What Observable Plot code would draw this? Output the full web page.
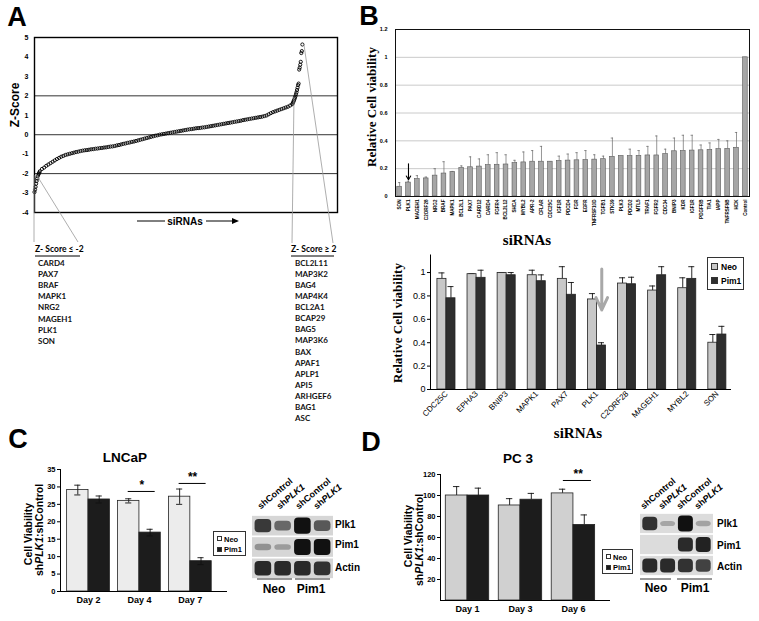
<!DOCTYPE html>
<html><head><meta charset="utf-8">
<script src="https://cdn.jsdelivr.net/npm/d3@7"></script>
<script src="https://cdn.jsdelivr.net/npm/@observablehq/plot@0.6"></script>
<style>
body{margin:0;background:#fff;}
#fig{position:relative;width:759px;height:621px;overflow:hidden;background:#fff;font-family:'Liberation Sans',Arial,sans-serif;color:#000;}
#fig svg{position:absolute;}
</style></head>
<body><div id="fig"></div>
<script>
// ---------------- DATA ----------------
// Panel A: ranked Z-scores (low tail, body, high tail)
const zLowTail = [-2.95,-2.82,-2.68,-2.52,-2.38,-2.25,-2.14,-2.06,-2.0,-1.95];
const zBody = [-1.88,-1.76,-1.69,-1.6,-1.53,-1.46,-1.39,-1.32,-1.25,-1.19,
  -1.13,-1.09,-1.04,-1.01,-0.98,-0.95,-0.92,-0.89,-0.87,-0.84,
  -0.82,-0.8,-0.79,-0.77,-0.75,-0.74,-0.72,-0.71,-0.69,-0.68,
  -0.66,-0.65,-0.63,-0.61,-0.6,-0.58,-0.55,-0.53,-0.5,-0.47,
  -0.45,-0.42,-0.4,-0.37,-0.35,-0.32,-0.29,-0.26,-0.23,-0.2,
  -0.17,-0.14,-0.11,-0.08,-0.05,-0.03,0.0,0.02,0.04,0.06,
  0.08,0.1,0.12,0.14,0.16,0.18,0.2,0.22,0.24,0.26,
  0.28,0.29,0.31,0.33,0.34,0.35,0.37,0.38,0.4,0.42,
  0.44,0.46,0.48,0.5,0.52,0.54,0.56,0.58,0.6,0.62,
  0.64,0.66,0.68,0.7,0.72,0.75,0.77,0.79,0.81,0.83,
  0.85,0.87,0.89,0.91,0.93,0.96,0.99,1.05,1.11,1.16,
  1.2,1.24,1.28,1.32,1.36,1.4,1.44,1.5,1.57];
const zHighTail = [1.62,1.68,1.75,1.82,1.9,1.98,2.08,2.18,2.3,2.42,2.55,2.63,3.35,3.45,3.6,3.75,4.2,4.3,4.64];
const zTicks = [-4,-3,-2,-1,0,1,2,3,4,5];
const zThresholds = [-2,0,2];
const lowHits = ["CARD4","PAX7","BRAF","MAPK1","NRG2","MAGEH1","PLK1","SON"];
const highHits = ["BCL2L11","MAP3K2","BAG4","MAP4K4","BCL2A1","BCAP29","BAG5","MAP3K6","BAX","APAF1","APLP1","API5","ARHGEF6","BAG1","ASC"];

// Panel B (top): relative viability of hits
const bGenes = ["SON","PLK1","MAGEH1","C2ORF28","NRG2","BRAF","MAPK1","BCL2L1","PAX7","CARD12","CARD4","FGFR4","BCL2L12","SHCA","MYBL2","APR-2","CFLAR","CDC25C","IGF1R","PDCD4","FGR","EGFR","TNFRSF10D","TGFB1","STK39","PLK3","PDCD2","MTL5","TRAF1","FGFR2","CDC34","BNIP3","KDR","IGF1R","PDGFRB","TIA1","IAPP","TNFRSF6B","HCK","Control"];
const bViability = [0.07,0.1,0.125,0.13,0.15,0.165,0.175,0.205,0.21,0.215,0.225,0.228,0.23,0.24,0.245,0.25,0.25,0.25,0.255,0.258,0.26,0.262,0.265,0.268,0.285,0.29,0.29,0.292,0.295,0.295,0.305,0.325,0.327,0.33,0.332,0.335,0.34,0.342,0.35,1.0];
const bErrTop = [0.1,0.11,0.15,0.14,0.2,0.25,0.18,0.22,0.285,0.27,0.3,0.315,0.3,0.26,0.32,0.33,0.36,0.25,0.29,0.305,0.315,0.33,0.3,0.29,0.42,0.29,0.34,0.33,0.36,0.435,0.34,0.42,0.44,0.44,0.37,0.385,0.41,0.4,0.46,1.0];
const bTicks = [0,0.2,0.4,0.6,0.8,1,1.2];
const bMarked = ["PLK1"];

// Panel B (bottom): Neo vs Pim1
const vGenes = ["CDC25C","EPHA3","BNIP3","MAPK1","PAX7","PLK1","C2ORF28","MAGEH1","MYBL2","SON"];
const vNeo = [0.946,0.986,0.997,0.977,0.946,0.77,0.906,0.846,0.866,0.40];
const vNeoTop = [0.997,0.99,1.0,1.02,1.05,0.82,0.955,0.885,0.955,0.47];
const vPim = [0.78,0.955,0.977,0.926,0.81,0.376,0.9,0.977,0.946,0.47];
const vPimTop = [0.88,1.02,1.0,0.98,0.915,0.40,0.96,1.05,1.05,0.54];
const vTicks = [0,0.2,0.4,0.6,0.8,1];

// Panel C: LNCaP
const cDays = ["Day 2","Day 4","Day 7"];
const cNeo = [29.1,26.0,27.2], cNeoSD = [1.4,0.6,2.2];
const cPim = [26.4,16.9,8.7], cPimSD = [1.0,0.95,1.0];
const cTicks = [0,5,10,15,20,25,30,35];
const cSig = [{g:1, label:"*", y:28.7}, {g:2, label:"**", y:31.0}];

// Panel D: PC 3
const dDays = ["Day 1","Day 3","Day 6"];
const dNeo = [100,90.5,102], dNeoSD = [8.5,6.5,4];
const dPim = [100,96,72], dPimSD = [7,6,9.5];
const dTicks = [20,40,60,80,100,120];
const dSig = [{g:2, label:"**", y:114.3}];

// Western blots (band intensity 0..1)
const blotRows = ["Plk1","Pim1","Actin"];
const blotLanes = ["shControl","shPLK1","shControl","shPLK1"];
const blotC = {Plk1:[0.75,0.45,1.0,0.55], Pim1:[0.18,0.12,1.0,1.0], Actin:[0.85,0.85,0.85,0.8]};
const blotD = {Plk1:[0.8,0.08,1.0,0.1], Pim1:[0,0,0.85,0.9], Actin:[0.85,0.85,0.8,0.7]};

// ---------------- HELPERS ----------------
const fig = document.getElementById("fig");
const SANS = "'Liberation Sans',Arial,sans-serif";
const SERIF = "'Liberation Serif','Times New Roman',serif";
function place(node, left, top){ node.style.left = left+"px"; node.style.top = top+"px"; fig.appendChild(node); return node; }
function txt(html, x, y, css, anchor="middle", rot=0){
  const d = document.createElement("div");
  d.innerHTML = html;
  const tx = anchor==="middle" ? "-50%" : anchor==="end" ? "-100%" : "0";
  d.style.cssText = `position:absolute;left:${x}px;top:${y}px;white-space:nowrap;line-height:1;${css}`;
  d.style.transform = `translate(${tx},-50%)` + (rot ? ` rotate(${rot}deg)` : "");
  fig.appendChild(d); return d;
}
function slant(html, x, y, size, rot){
  const d = document.createElement("div");
  d.innerHTML = html;
  d.style.cssText = `position:absolute;left:${x}px;top:${y-size}px;white-space:nowrap;line-height:1;font:bold ${size}px ${SANS};transform-origin:0 100%;transform:rotate(${rot}deg);`;
  fig.appendChild(d);
}
const fmt = d => String(d);

// ---------------- PANEL A ----------------
const aData = [
  ...zLowTail.map((z,i)=>({rank:i, z})),
  ...zBody.map((z,i)=>({rank:10+4*i, z})),
  ...zHighTail.map((z,i)=>({rank:483+i, z}))
];
place(Plot.plot({
  width:360, height:225, marginLeft:34, marginRight:23, marginTop:37, marginBottom:13,
  style:{fontFamily:SANS, background:"none", overflow:"visible"},
  x:{domain:[0,566.7], axis:null},
  y:{domain:[-4,5], axis:null},
  marks:[
    Plot.ruleY(zThresholds, {stroke:"#333", strokeWidth:1}),
    Plot.dot(aData, {x:"rank", y:"z", r:1.6, stroke:"#000", strokeWidth:0.9, fill:"none"}),
    Plot.frame({stroke:"#000", strokeWidth:1.4}),
    Plot.axisY(zTicks, {tickSize:0, tickPadding:6, fontSize:7, fontWeight:"bold", tickFormat:fmt, label:null})
  ]
}), 0, 0);

// ---------------- PANEL B top ----------------
const bIdx = d3.range(bGenes.length);
const bData = bIdx.map(i=>({g:i, v:bViability[i], e:bErrTop[i]}));
place(Plot.plot({
  width:399, height:250, marginLeft:35, marginRight:10, marginTop:29, marginBottom:54,
  style:{fontFamily:SANS, background:"none", overflow:"visible"},
  x:{type:"band", domain:bIdx, paddingInner:0.47, paddingOuter:0.2, axis:null},
  y:{domain:[0,1.2], axis:null},
  marks:[
    Plot.gridY(bTicks.slice(1), {stroke:"#bdbdbd", strokeOpacity:1, strokeWidth:0.8}),
    Plot.ruleX(bData, {x:"g", y1:"v", y2:"e", stroke:"#6a6a6a", strokeWidth:0.7}),
    Plot.tickY(bData, {x:"g", y:"e", stroke:"#6a6a6a", strokeWidth:0.7, insetLeft:1.2, insetRight:1.2}),
    Plot.barY(bData, {x:"g", y:"v", fill:"#a6a6a6", stroke:"#5a5a5a", strokeWidth:0.6}),
    Plot.frame({stroke:"#111", strokeWidth:1}),
    Plot.arrow(bData.filter(d=>bMarked.includes(bGenes[d.g])), {x1:"g", x2:"g", y1:d=>d.v+0.135, y2:d=>d.v+0.02, stroke:"#000", strokeWidth:1.1, headLength:6}),
    Plot.axisY(bTicks, {tickSize:0, tickPadding:8, fontSize:5.5, fontWeight:"bold", tickFormat:fmt, label:null}),
    Plot.axisX(bIdx, {tickSize:0, tickPadding:3, tickRotate:-90, fontSize:4.6, fontWeight:"bold", tickFormat:i=>bGenes[i], label:null})
  ]
}), 360, 0);

// ---------------- grouped bar helper ----------------
function groupPlot(o){
  const idx = d3.range(o.groups.length);
  const rows = idx.flatMap(i=>[
    {g:i, s:"Neo", x1:i-o.bw, x2:i, xc:i-o.bw/2, v:o.neo[i], lo:o.neoLo[i], hi:o.neoHi[i]},
    {g:i, s:"Pim1", x1:i, x2:i+o.bw, xc:i+o.bw/2, v:o.pim[i], lo:o.pimLo[i], hi:o.pimHi[i]}
  ]);
  const marks = [
    Plot.ruleX(rows, {x:"xc", y1:"lo", y2:"hi", stroke:"#111", strokeWidth:0.9}),
    Plot.ruleY(rows, {y:"hi", x1:d=>d.xc-o.cap, x2:d=>d.xc+o.cap, stroke:"#111", strokeWidth:0.9}),
    Plot.rectY(rows, {x1:"x1", x2:"x2", y1:0, y2:"v", fill:"s", stroke:"#222", strokeWidth:0.8}),
  ];
  if (o.twoSided) {
    marks.push(Plot.ruleX(rows, {x:"xc", y1:"lo", y2:"v", stroke:"#111", strokeWidth:0.9}));
    marks.push(Plot.ruleY(rows, {y:"lo", x1:d=>d.xc-o.cap, x2:d=>d.xc+o.cap, stroke:"#111", strokeWidth:0.9}));
  }
  marks.push(
    Plot.ruleY([o.yDomain[0]], {stroke:"#000", strokeWidth:1}),
    Plot.ruleX([o.xDomain[0]], {stroke:"#000", strokeWidth:1}),
    Plot.axisY(o.yTicks, {anchor:"left", tickSize:3, tickPadding:2, fontSize:o.yFont, fontWeight:o.weight, tickFormat:fmt, label:null}),
    Plot.axisX(idx, {tickSize:0, tickPadding:o.xPad, tickRotate:o.rot, fontSize:o.xFont, fontWeight:o.weight, tickFormat:i=>o.groups[i], label:null}),
    ...(o.extra||[])
  );
  return Plot.plot({
    width:o.width, height:o.height, marginLeft:o.ml, marginRight:o.mr, marginTop:o.mt, marginBottom:o.mb,
    style:{fontFamily:SANS, background:"none", overflow:"visible"},
    x:{domain:o.xDomain, axis:null},
    y:{domain:o.yDomain, axis:null},
    color:{domain:["Neo","Pim1"], range:o.colors},
    marks
  });
}

// ---------------- PANEL B bottom ----------------
place(groupPlot({
  groups:vGenes, neo:vNeo, neoLo:vNeo, neoHi:vNeoTop, pim:vPim, pimLo:vPim, pimHi:vPimTop,
  bw:0.3, cap:0.1, twoSided:false,
  width:399, height:200, ml:70, mr:28, mt:9.5, mb:56,
  xDomain:[-0.53,9.47], yDomain:[0,1.15], yTicks:vTicks,
  colors:["#c8c8c8","#2e2e2e"], yFont:9, xFont:8, weight:"normal", rot:-45, xPad:3,
  extra:[
    Plot.arrow(vGenes.map((g,i)=>({i, v:vPimTop[i]})).filter(d=>vGenes[d.i]==="PLK1"),
      {x1:d=>d.i+0.16, x2:d=>d.i+0.16, y1:1.03, y2:d=>d.v+0.28, stroke:"#a8a8a8", strokeWidth:3, headLength:9, headAngle:50})
  ]
}), 360, 245);

// ---------------- PANEL C ----------------
place(groupPlot({
  groups:cDays, neo:cNeo, neoLo:cNeo.map((v,i)=>v-cNeoSD[i]), neoHi:cNeo.map((v,i)=>v+cNeoSD[i]),
  pim:cPim, pimLo:cPim.map((v,i)=>v-cPimSD[i]), pimHi:cPim.map((v,i)=>v+cPimSD[i]),
  bw:0.42, cap:0.06, twoSided:true,
  width:260, height:150, ml:60, mr:33, mt:9, mb:19,
  xDomain:[-0.55,2.73], yDomain:[0,35], yTicks:cTicks,
  colors:["#ececec","#1c1c1c"], yFont:7.5, xFont:9, weight:"bold", rot:0, xPad:5,
  extra:[
    Plot.ruleY(cSig, {y:"y", x1:d=>d.g-0.22, x2:d=>d.g+0.31, stroke:"#000", strokeWidth:1}),
    Plot.text(cSig, {x:d=>d.g+0.045, y:"y", text:"label", dy:-2, fontSize:12, fontWeight:"bold", lineAnchor:"bottom"})
  ]
}), 0, 460);

// ---------------- PANEL D ----------------
place(groupPlot({
  groups:dDays, neo:dNeo, neoLo:dNeo, neoHi:dNeo.map((v,i)=>v+dNeoSD[i]),
  pim:dPim, pimLo:dPim, pimHi:dPim.map((v,i)=>v+dPimSD[i]),
  bw:0.41, cap:0.06, twoSided:false,
  width:250, height:155, ml:60, mr:20, mt:9, mb:20,
  xDomain:[-0.51,2.7], yDomain:[0,120], yTicks:dTicks,
  colors:["#d0d0d0","#1c1c1c"], yFont:7.5, xFont:9, weight:"bold", rot:0, xPad:5,
  extra:[
    Plot.ruleY(dSig, {y:"y", x1:d=>d.g-0.19, x2:d=>d.g+0.34, stroke:"#000", strokeWidth:1}),
    Plot.text(dSig, {x:d=>d.g+0.09, y:"y", text:"label", dy:-2, fontSize:12, fontWeight:"bold", lineAnchor:"bottom"})
  ]
}), 380, 465);

// ---------------- Western blots ----------------
function blotPlot(spec, width, height, bg){
  const bands = [], strips = [];
  blotRows.forEach((r,ri)=>{
    strips.push({r:ri});
    spec[r].forEach((v,li)=>{ if (v>0) bands.push({r:ri, l:li, v}); });
  });
  return Plot.plot({
    width, height, margin:0,
    style:{background:"none", overflow:"visible", filter:"blur(0.7px)"},
    x:{domain:[-0.55,3.55], axis:null},
    y:{domain:[0,3], reverse:true, axis:null},
    marks:[
      Plot.rect(strips, {x1:-0.55, x2:3.55, y1:d=>d.r+0.04, y2:d=>d.r+0.96, fill:bg}),
      Plot.rect(bands, {x1:d=>d.l-0.42, x2:d=>d.l+0.42, y1:d=>d.r+0.5-(0.1+0.28*d.v), y2:d=>d.r+0.5+(0.1+0.28*d.v),
        fill:"#111", fillOpacity:d=>0.2+0.8*d.v, rx:4})
    ]
  });
}
place(blotPlot(blotC, 81, 64, "#d6d6d6"), 252, 515);
place(blotPlot(blotD, 73, 63, "#dcdcdc"), 640, 513);

// ---------------- Text & decorations ----------------
const big = `font:bold 27px ${SANS};`;
txt("A", 17, 17, big); txt("B", 369, 16, big); txt("C", 18, 439, big); txt("D", 371, 442, big);

// Panel A texts
txt("Z-Score", 15, 105, `font:bold 12px ${SANS};`, "middle", -90);
txt("siRNAs", 185, 221, `font:bold 10px ${SANS};`);
txt("Z- Score &le; -2", 35, 249, `font:bold 8.5px Lato,${SANS};`, "start");
txt("Z- Score &ge; 2", 291, 249, `font:bold 8.5px Lato,${SANS};`, "start");
lowHits.forEach((g,i)=>txt(g, 38, 262.5+11.2*i, `font:bold 8px Lato,${SANS};color:#111;`, "start"));
highHits.forEach((g,i)=>txt(g, 295, 262.5+11.13*i, `font:bold 8px Lato,${SANS};color:#111;`, "start"));

// Panel B texts
txt("Relative Cell viability", 372, 107, `font:bold 13px ${SERIF};`, "middle", -90);
txt("siRNAs", 527, 240, `font:bold 15px ${SERIF};`);
txt("Relative Cell viability", 398, 323, `font:bold 13px ${SERIF};`, "middle", -90);
txt("siRNAs", 578, 433, `font:bold 15px ${SERIF};`);

// Panel C/D texts
txt("LNCaP", 125, 457, `font:bold 13.5px ${SANS};`);
txt("PC 3", 518, 458, `font:bold 13.5px ${SANS};`);
txt("Cell Viability", 28, 534, `font:bold 10.5px ${SANS};`, "middle", -90);
txt("sh<i>PLK1</i>:shControl", 39, 530, `font:bold 10.5px ${SANS};`, "middle", -90);
txt("Cell Viability", 408, 536, `font:bold 10.5px ${SANS};`, "middle", -90);
txt("sh<i>PLK1</i>:shControl", 419, 540, `font:bold 10.5px ${SANS};`, "middle", -90);

// Legends
function legend(x, y, w, h, sq, gap, fs, fills){
  const box = document.createElement("div");
  box.style.cssText = `position:absolute;left:${x}px;top:${y}px;width:${w}px;height:${h}px;border:1px solid #333;background:#fff;box-sizing:border-box;`;
  fig.appendChild(box);
  ["Neo","Pim1"].forEach((s,i)=>{
    const cy = y + h*(i===0?0.3:0.72);
    const q = document.createElement("div");
    q.style.cssText = `position:absolute;left:${x+4}px;top:${cy-sq/2}px;width:${sq}px;height:${sq}px;background:${fills[i]};border:0.8px solid #333;box-sizing:border-box;`;
    fig.appendChild(q);
    txt(s, x+4+sq+gap, cy, `font:bold ${fs}px ${SANS};`, "start");
  });
}
legend(707, 257, 37, 33, 7, 3, 8.5, ["#c8c8c8","#2e2e2e"]);
legend(213, 531, 33, 25, 5, 2, 7.5, ["#fff","#1c1c1c"]);
legend(602, 549, 31, 25, 5, 2, 7.5, ["#fff","#1c1c1c"]);

// Blot labels
blotRows.forEach((r,i)=>{
  txt(r, 335, [524,544,567][i], `font:bold 10px ${SANS};`, "start");
  txt(r, 717, [523,545,566][i], `font:bold 10px ${SANS};`, "start");
});
blotLanes.forEach((l,i)=>{
  const html = l==="shPLK1" ? "sh<i>PLK1</i>" : l;
  slant(html, [262,281,300,318][i], 510, 9, -40);
  slant(html, [645,663,681,699][i], 510, 9, -40);
});
txt("Neo", 274, 589, `font:bold 12px ${SANS};`);
txt("Pim1", 311, 589, `font:bold 12px ${SANS};`);
txt("Neo", 656, 588, `font:bold 12px ${SANS};`);
txt("Pim1", 695, 588, `font:bold 12px ${SANS};`);

// Decorative line overlay
const ov = d3.select(fig).append("svg").attr("width",759).attr("height",621)
  .style("left","0px").style("top","0px").style("pointer-events","none");
const L = (x1,y1,x2,y2,stroke="#000",w=1)=>ov.append("line").attr("x1",x1).attr("y1",y1).attr("x2",x2).attr("y2",y2).attr("stroke",stroke).attr("stroke-width",w);
// leader lines (panel A)
L(34,175,34,242,"#999",0.8); L(36,174,78,242,"#999",0.8);
L(294,97,292,243,"#999",0.8); L(304,45,333,243,"#999",0.8);
// header underlines
L(35,256,80,256,"#000",1); L(291,256,334,256,"#000",1);
// siRNAs arrow
L(137,221,165,221,"#000",1); L(206,221,234,221,"#000",1);
ov.append("path").attr("d","M232,218 L239,221 L232,224 Z").attr("fill","#000");
// blot group lines
L(257,579,292,579,"#333",1); L(295,579,330,579,"#333",1);
L(640,579,671,579,"#333",1); L(677,579,712,579,"#333",1);
</script>
</body></html>
